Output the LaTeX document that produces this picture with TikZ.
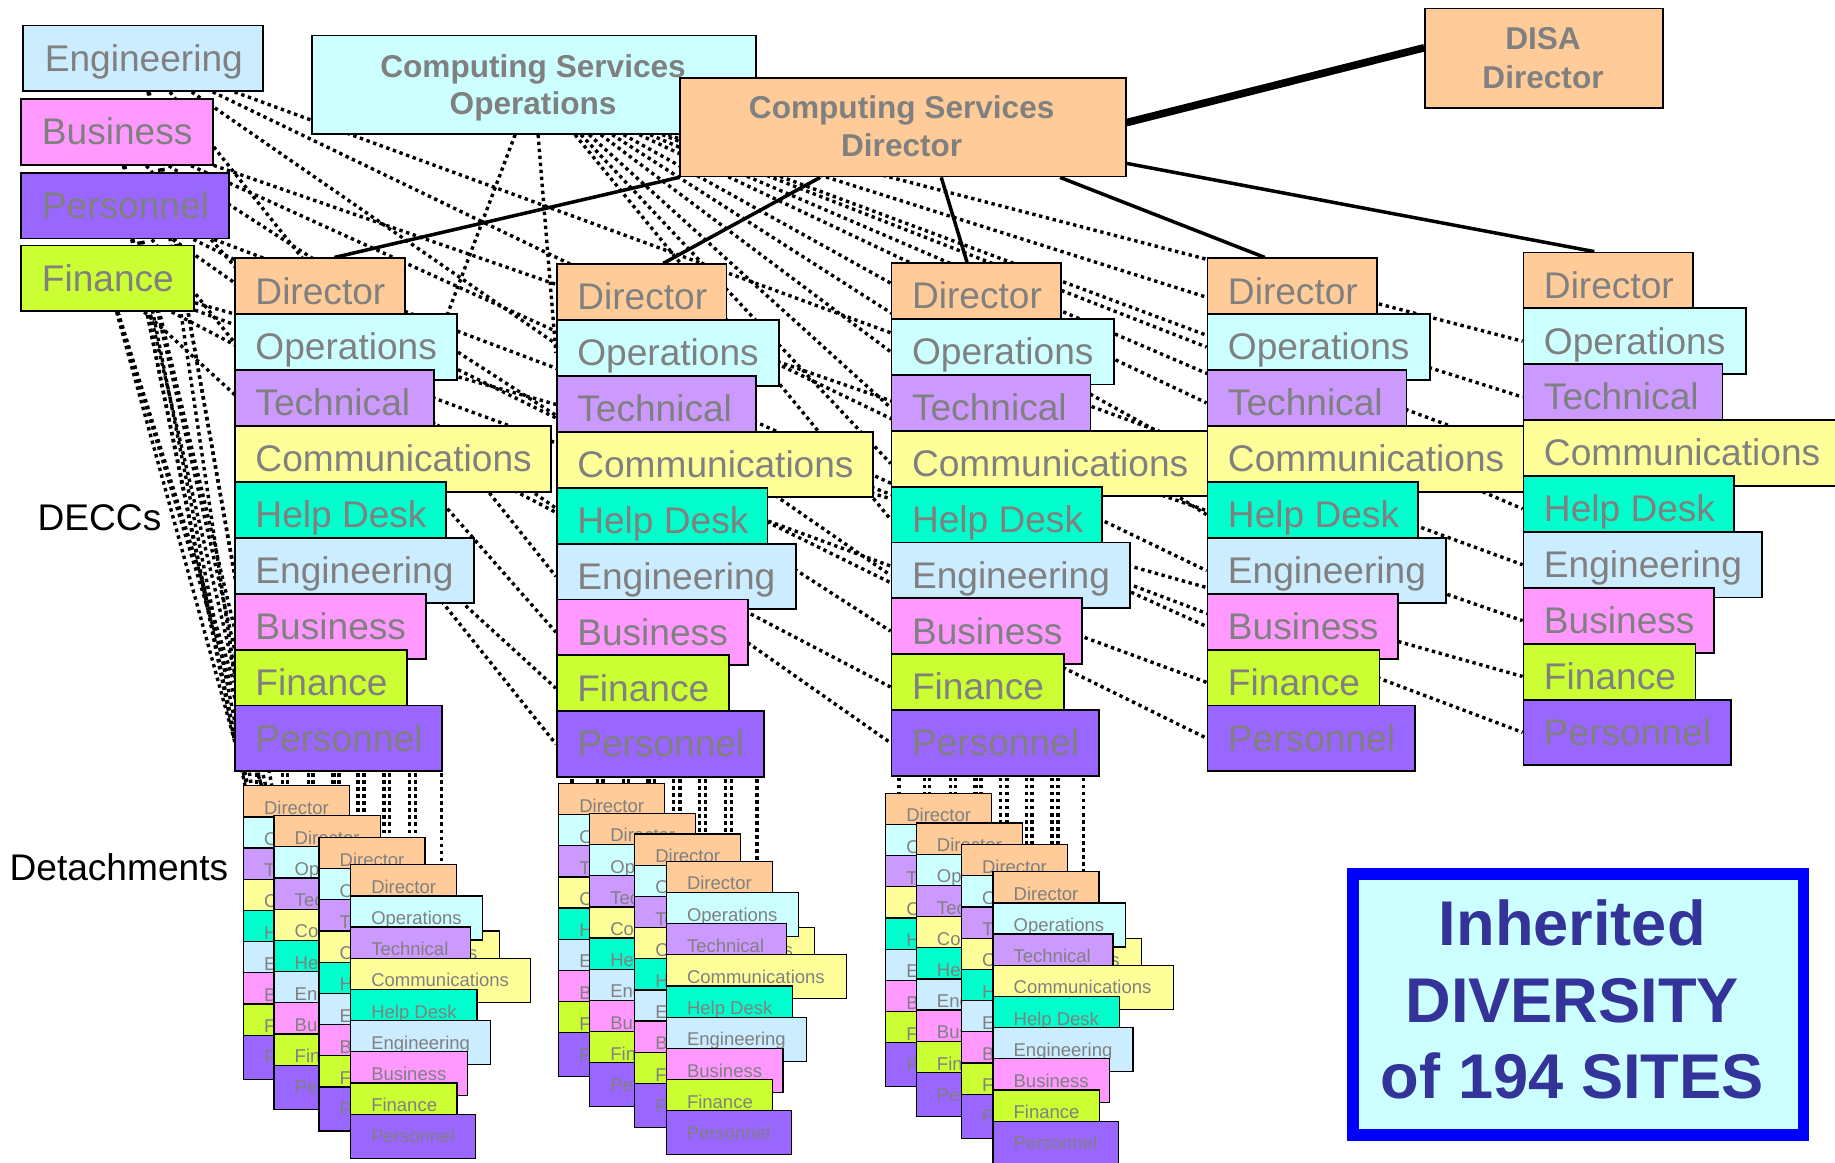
\documentclass[tikz,border=0pt]{standalone}
\usepackage{fontspec}
\setmainfont{Liberation Sans}
\pgfdeclarelayer{bg}
\pgfsetlayers{bg,main}
\definecolor{cDir}{HTML}{FFCC99}
\definecolor{cOps}{HTML}{CCFFFF}
\definecolor{cTech}{HTML}{CC99FF}
\definecolor{cComm}{HTML}{FFFF99}
\definecolor{cHD}{HTML}{00FFCC}
\definecolor{cEng}{HTML}{CCECFF}
\definecolor{cBus}{HTML}{FF99FF}
\definecolor{cFin}{HTML}{CCFF33}
\definecolor{cPer}{HTML}{9966FF}
\definecolor{txtgray}{HTML}{808080}
\definecolor{navytxt}{HTML}{333399}
\definecolor{frameblue}{HTML}{0000FF}
\newcommand\bigsz{\fontsize{31.7}{36}\selectfont}
\newcommand\smallsz{\fontsize{15.8}{18}\selectfont}
\newcommand\hdsz{\fontsize{27}{33}\selectfont\bfseries}
\newcommand\divsz{\fontsize{54}{65}\selectfont\bfseries}
\begin{document}
\begin{tikzpicture}[x=1pt,y=-1pt,
  bigbox/.style={draw=black, line width=1.6pt, anchor=north west, inner sep=0pt,
    text height=39pt, text depth=17pt, text=txtgray, font=\bigsz},
  smallbox/.style={draw=black, line width=1.1pt, anchor=north west, inner sep=0pt,
    text height=24.5pt, text depth=13.1pt, text=txtgray, font=\smallsz},
  headbox/.style={draw=black, line width=1.6pt, fill=#1, anchor=north west, inner sep=0pt},
  headtext/.style={text=txtgray, font=\hdsz, anchor=base, inner sep=0pt},
  dotline/.style={line width=2.9pt, dash pattern=on 2.9pt off 3.1pt, black},
  solidline/.style={line width=3pt, black},
  plainlabel/.style={font=\bigsz, text=black, anchor=base west, inner sep=0pt}
]
\useasboundingbox (0,0) rectangle (1568,993);
\clip (0,0) rectangle (1568,993);

% ---------- legend boxes ----------
\node[bigbox, fill=cEng] (lgEng) at (19,21) {\makebox[205pt][l]{\hspace{18.5pt}Engineering}};
\node[bigbox, fill=cBus] (lgBus) at (17,84) {\makebox[164pt][l]{\hspace{18pt}Business}};
\node[bigbox, fill=cPer] (lgPer) at (17,147) {\makebox[178pt][l]{\hspace{18pt}Personnel}};
\node[bigbox, fill=cFin] (lgFin) at (17,209) {\makebox[148pt][l]{\hspace{18pt}Finance}};

% ---------- head boxes ----------
\node[headbox=cOps, minimum width=380pt, minimum height=84pt] (cso) at (265.5,29.5) {};
\node[headtext] (csoA) at (455.5,66) {Computing Services};
\node[headtext] (csoB) at (455.5,98) {Operations};
\node[headbox=cDir, minimum width=381pt, minimum height=84pt] (csd) at (580,66) {};
\node[headtext] (csdA) at (770.5,101) {Computing Services};
\node[headtext] (csdB) at (770.5,134) {Director};
\node[headbox=cDir, minimum width=203pt, minimum height=85pt] (disa) at (1217,6.5) {};
\node[headtext] (disaA) at (1318.5,42) {DISA};
\node[headtext] (disaB) at (1318.5,75.5) {Director};

% ---------- DECC columns ----------
\foreach \k/\cx/\cy in {1/200/220,2/475/225,3/761/224,4/1031/220,5/1301/215}{
  \foreach \r/\w/\cc/\lab in {0/145/cDir/Director,1/190/cOps/Operations,2/170/cTech/Technical,
      3/270/cComm/Communications,4/180/cHD/Help Desk,5/204/cEng/Engineering,
      6/163/cBus/Business,7/147/cFin/Finance,8/177/cPer/Personnel}{
    \pgfmathsetmacro\yy{\cy+47.75*\r}
    \node[bigbox, fill=\cc] (c\k-\r) at (\cx,\yy) {\makebox[\w pt][l]{\hspace{17.5pt}\lab}};
  }
}

% ---------- detachment stacks ----------
\foreach \g/\s/\sx/\sy in {1/a/207.4/670.8,1/b/233.6/696.4,1/c/272/715,1/d/299/738.3,
    2/a/476.8/668.8,2/b/503.3/694.4,2/c/541.7/712.1,2/d/568.8/735.4,
    3/a/756.2/677.3,3/b/782.4/702.7,3/c/820.9/721.2,3/d/847.9/744.3}{
  \foreach \r/\w/\cc/\lab in {0/90.7/cDir/Director,1/113/cOps/Operations,2/102.6/cTech/Technical,
      3/154/cComm/Communications,4/108/cHD/Help Desk,5/119.6/cEng/Engineering,
      6/99.7/cBus/Business,7/91/cFin/Finance,8/107/cPer/Personnel}{
    \pgfmathsetmacro\yy{\sy+26.65*\r}
    \node[smallbox, fill=\cc] (d\g\s-\r) at (\sx,\yy) {\makebox[\w pt][l]{\hspace{17.7pt}\lab}};
  }
}

% ---------- side labels ----------
\node[plainlabel] (lblDECC) at (32,453) {DECCs};
\node[plainlabel] (lblDet) at (8,752) {Detachments};

% ---------- inherited diversity box ----------
\node[draw=frameblue, line width=10pt, fill=cOps, minimum width=385pt, minimum height=223pt,
  anchor=north west, inner sep=0pt] (idiv) at (1151,742) {};
\node[text=navytxt, font=\divsz, align=center, inner sep=0pt] (idivT) at (1343.5,854) {Inherited\\DIVERSITY\\of 194 SITES};

% ---------- connectors (behind boxes) ----------
\begin{pgfonlayer}{bg}
\foreach \k in {1,...,5}{
  \draw[dotline] (lgEng) -- (c\k-5.west);
  \draw[dotline] (lgBus) -- (c\k-6.west);
  \draw[dotline] (lgPer) -- (c\k-8.west);
  \draw[dotline] (lgFin) -- (c\k-7.west);
}
\foreach \s in {a,b}{
  \draw[dotline] (lgEng) -- ([xshift=30pt]d1\s-5.west);
  \draw[dotline] (lgBus) -- ([xshift=40pt]d1\s-6.west);
  \draw[dotline] (lgPer) -- ([xshift=50pt]d1\s-8.west);
  \draw[dotline] (lgFin) -- ([xshift=60pt]d1\s-7.west);
}
\draw[dotline] (cso) -- (c1-3);
\draw[dotline] (cso) -- (c2-1.west);
\foreach \k in {3,...,5}{
  \foreach \r in {1,...,4}{
    \draw[dotline] (cso) -- (c\k-\r.west);
  }
}
\foreach \g/\s/\sx/\cx in {1/a/207.4/200,1/b/233.6/200,1/c/272/200,1/d/299/200,
    2/a/476.8/475,2/b/503.3/475,2/c/541.7/475,2/d/568.8/475,
    3/a/756.2/761,3/b/782.4/761,3/c/820.9/761,3/d/847.9/761}{
  \foreach \r/\xt in {5/12,6/34,7/56,8/78}{
    \pgfmathsetmacro\xs{\sx+\xt-\cx}
    \draw[dotline] ([xshift=\xs pt]c\g-8.west) -- ([xshift=\xt pt]d\g\s-\r.west);
  }
}
\draw[line width=6.5pt] ([yshift=4pt]csd.east) -- ([yshift=9pt]disa.west);
\draw[solidline] (csd.south west) -- ([xshift=12.5pt]c1-0.north);
\draw[solidline] ([xshift=-70.5pt]csd.south) -- ([xshift=18.5pt]c2-0.north);
\draw[solidline] ([xshift=33pt]csd.south) -- ([xshift=-8pt]c3-0.north);
\draw[solidline] ([xshift=134.5pt]csd.south) -- ([xshift=-23.5pt]c4-0.north);
\draw[solidline] ([yshift=12pt]csd.south east) -- ([xshift=-12pt]c5-0.north);
\end{pgfonlayer}
\end{tikzpicture}
\end{document}
